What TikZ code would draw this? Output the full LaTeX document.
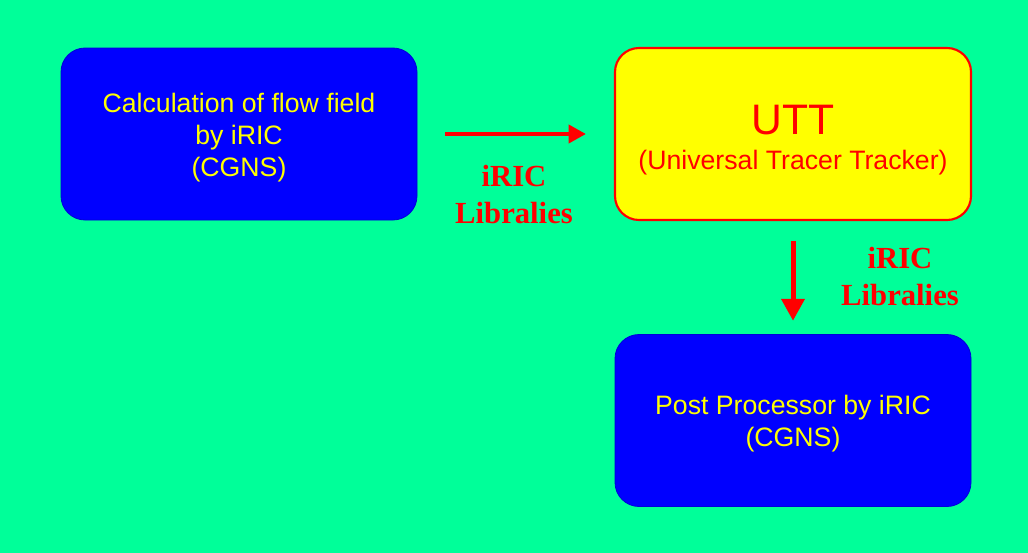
\documentclass[tikz,border=0pt]{standalone}
\usepackage{fontspec}
\setmainfont{Liberation Sans}
\newfontfamily\libfont{Liberation Serif}
\usetikzlibrary{arrows.meta}

\definecolor{bggreen}{RGB}{0,255,153}
\definecolor{boxblue}{RGB}{0,0,255}
\definecolor{boxyellow}{RGB}{255,255,0}
\definecolor{linered}{RGB}{255,0,0}

\newcommand{\upstrut}[1]{\rule{0pt}{#1}}

\begin{document}
\begin{tikzpicture}[x=0.75pt, y=-0.75pt,
    procbox/.style={rectangle, rounded corners=18pt, fill=boxblue, draw=boxblue!85!black,
        line width=0.6pt, minimum width=267pt, minimum height=129pt, align=center,
        text=boxyellow, font=\fontsize{20}{24}\selectfont},
    uttbox/.style={rectangle, rounded corners=18pt, fill=boxyellow, draw=linered,
        line width=1.6pt, minimum width=267pt, minimum height=129pt, align=center,
        text=linered, font=\fontsize{20}{26}\selectfont},
    flowarrow/.style={draw=linered, line width=3pt,
        -{Triangle[length=13pt, width=13.5pt]}},
    liblabel/.style={align=center, text=linered,
        font=\libfont\bfseries\fontsize{23}{28}\selectfont}]

    %% Background
    \fill[bggreen] (0,0) rectangle (1028,553);

    % Boxes
    \node[procbox] (calc) at (239,134)
        {\upstrut{19.5pt}Calculation of flow field\\by iRIC\\(CGNS)};
    \node[uttbox] (utt) at (793,134)
        {{\fontsize{32}{36}\selectfont\upstrut{31pt}UTT}\\
         (Universal Tracer Tracker)};
    \node[procbox] (post) at (793,420.5)
        {\upstrut{19.5pt}Post Processor by iRIC\\(CGNS)};

    % Arrows
    \draw[flowarrow, shorten <=21pt, shorten >=21pt] (calc.east) -- (utt.west);
    \draw[flowarrow, line width=3.75pt, shorten <=15pt, shorten >=10pt,
        -{Triangle[length=16.5pt, width=17pt]}] (utt.south) -- (post.north);

    % Labels
    \node[liblabel] (lib1) at (514,194.5) {iRIC\\Libralies};
    \node[liblabel] (lib2) at (900,276.5) {iRIC\\Libralies};

\end{tikzpicture}
\end{document}
